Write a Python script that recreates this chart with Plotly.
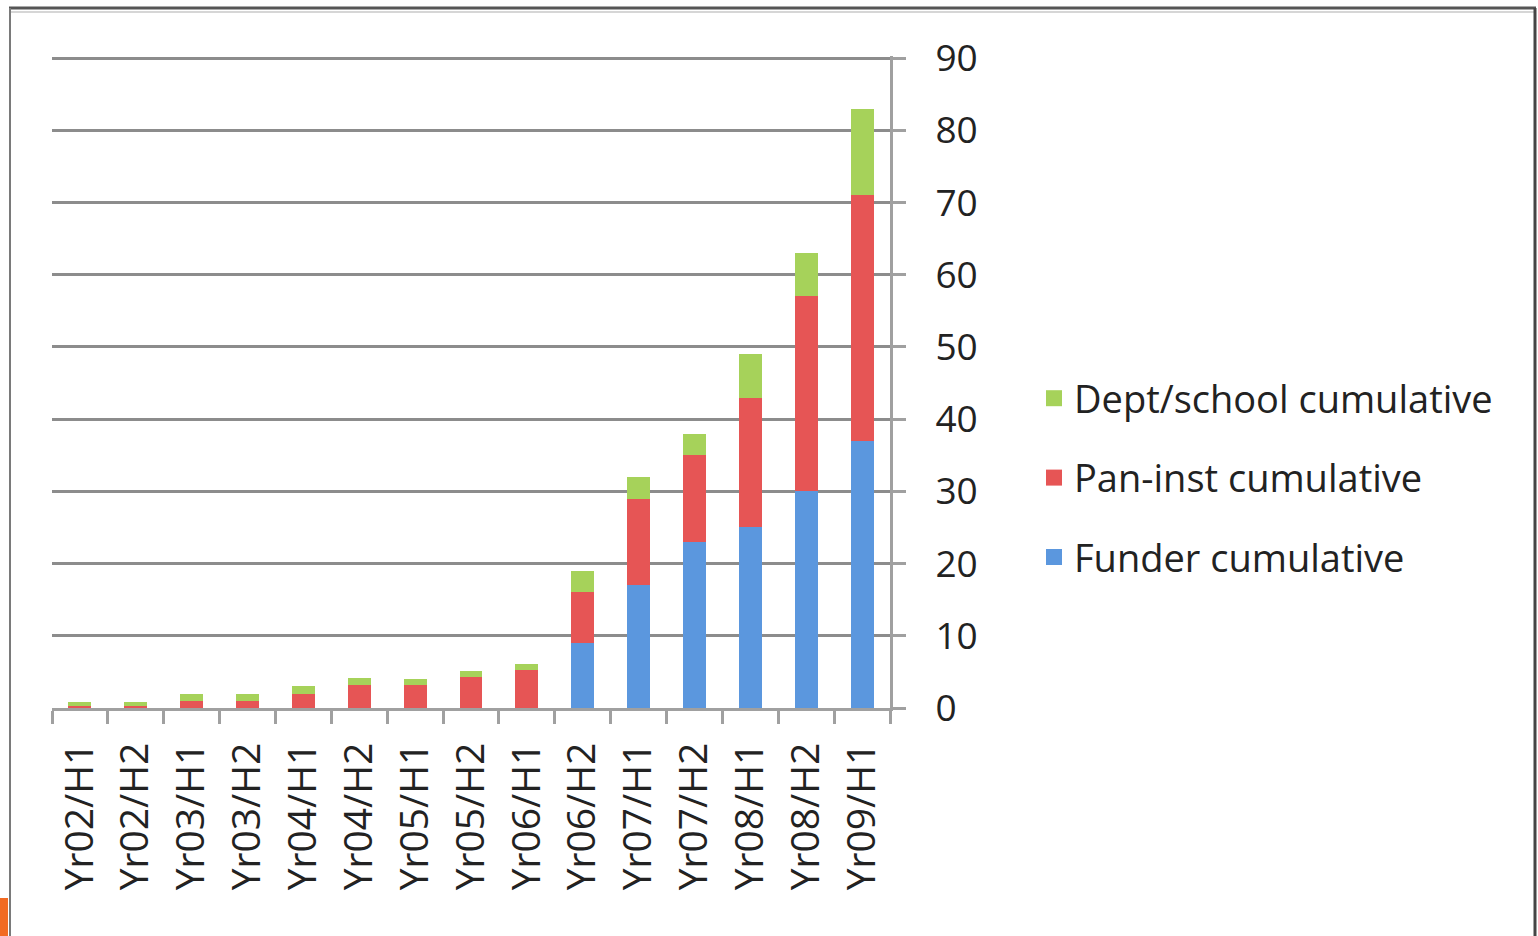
import plotly.graph_objects as go

# Half-year periods
periods = ["Yr02/H1", "Yr02/H2", "Yr03/H1", "Yr03/H2", "Yr04/H1", "Yr04/H2",
           "Yr05/H1", "Yr05/H2", "Yr06/H1", "Yr06/H2", "Yr07/H1", "Yr07/H2",
           "Yr08/H1", "Yr08/H2", "Yr09/H1"]

# Cumulative counts per source
funder_cum = [0, 0, 0, 0, 0, 0, 0, 0, 0, 9, 17, 23, 25, 30, 37]
pan_inst_cum = [0.3, 0.3, 1, 1, 2, 3.2, 3.2, 4.3, 5.3, 7, 12, 12, 18, 27, 34]
dept_school_cum = [0.5, 0.5, 1, 1, 1, 1, 0.8, 0.8, 0.8, 3, 3, 3, 6, 6, 12]

y_ticks = [0, 10, 20, 30, 40, 50, 60, 70, 80, 90]

FONT = "Open Sans"
TXT = "#222222"
GRID = "#8c8c8c"
AXIS = "#a0a0a0"

series = [
    ("Funder cumulative", funder_cum, "#5b97de", 3),
    ("Pan-inst cumulative", pan_inst_cum, "#e65555", 2),
    ("Dept/school cumulative", dept_school_cum, "#a6d25a", 1),
]

fig = go.Figure()
for name, vals, col, rank in series:
    fig.add_trace(go.Bar(x=periods, y=vals, name=name,
                         marker=dict(color=col, line=dict(width=0)),
                         showlegend=False))
    # legend entry with a larger square swatch
    fig.add_trace(go.Scatter(x=[None], y=[None], mode="markers", name=name,
                             marker=dict(symbol="square", size=16, color=col),
                             legendrank=rank, legendgroup=name))

# Plot area in pixels; a little headroom above 90 keeps the top gridline visible
Y_TOP = 90.3
L, R, T, B = 52, 890, 56, 708
W = R - L
H = B - T


def px_x(p):
    return (p - L) / W


def px_y(p):
    return (B - p) / H


# Outer frame of the slide and the small orange accent
shapes = [
    dict(type="line", xref="paper", yref="paper", x0=px_x(9), x1=px_x(1536),
         y0=px_y(8), y1=px_y(8), line=dict(color="#555555", width=3)),
    dict(type="line", xref="paper", yref="paper", x0=px_x(9), x1=px_x(1536),
         y0=px_y(12), y1=px_y(12), line=dict(color="#d6d6d6", width=2)),
    dict(type="line", xref="paper", yref="paper", x0=px_x(10), x1=px_x(10),
         y0=px_y(8), y1=px_y(940), line=dict(color="#7a7a7a", width=2)),
    dict(type="line", xref="paper", yref="paper", x0=px_x(1535), x1=px_x(1535),
         y0=px_y(8), y1=px_y(940), line=dict(color="#454545", width=3)),
    dict(type="rect", xref="paper", yref="paper", x0=px_x(0), x1=px_x(8),
         y0=px_y(898), y1=px_y(940), fillcolor="#f26a22", line=dict(width=0)),
]

fig.update_layout(
    width=1538, height=936,
    margin=dict(l=L, r=1538 - R, t=T, b=936 - B),
    paper_bgcolor="white", plot_bgcolor="white",
    barmode="stack", bargap=0.59,
    font=dict(family=FONT, size=37, color=TXT),
    legend=dict(x=px_x(1034), y=px_y(478), xanchor="left", yanchor="middle",
                traceorder="grouped", tracegroupgap=27,
                font=dict(family=FONT, size=38, color=TXT),
                bgcolor="rgba(0,0,0,0)"),
    shapes=shapes,
    xaxis=dict(type="category", tickangle=-90, tickson="boundaries",
               ticks="outside", ticklen=13, tickwidth=3, tickcolor=AXIS,
               showline=True, linecolor=AXIS, linewidth=3,
               showgrid=False, ticklabelstandoff=16,
               tickfont=dict(family=FONT, size=39, color=TXT)),
    yaxis=dict(side="right", range=[0, Y_TOP], tickvals=y_ticks,
               ticks="outside", ticklen=13, tickwidth=3, tickcolor=AXIS,
               showline=True, linecolor=AXIS, linewidth=3,
               showgrid=True, gridcolor=GRID, gridwidth=3, zeroline=False,
               ticklabelstandoff=22,
               tickfont=dict(family=FONT, size=37, color=TXT)),
)

fig.write_html("out.html")
